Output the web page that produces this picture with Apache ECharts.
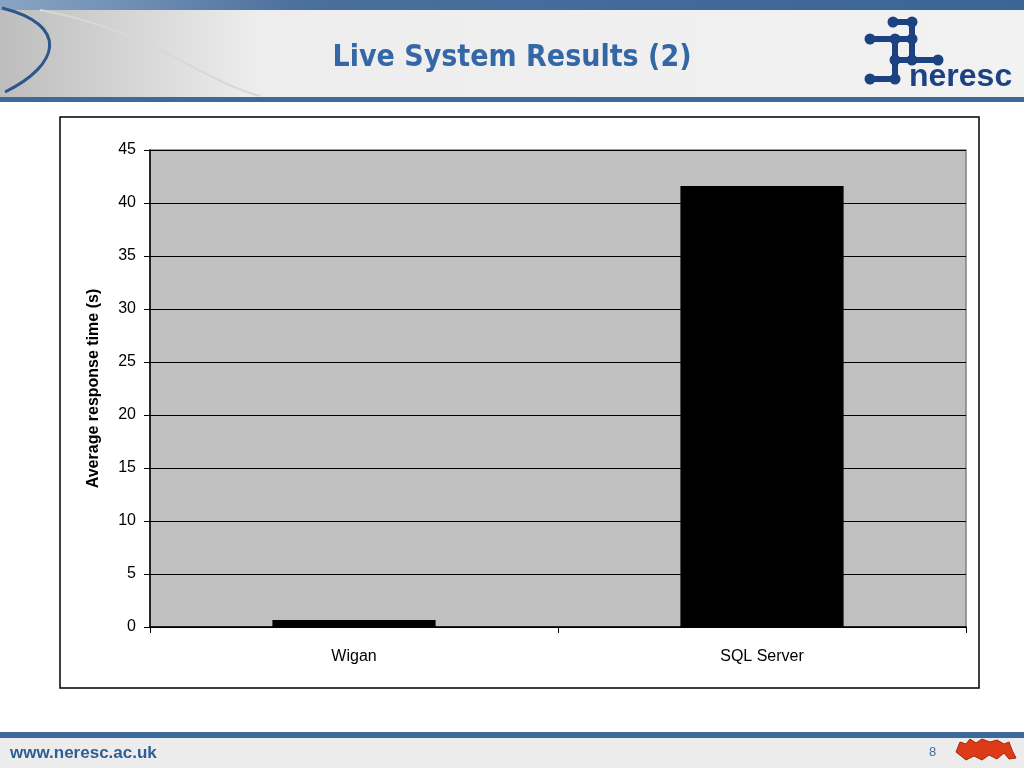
<!DOCTYPE html>
<html>
<head>
<meta charset="utf-8">
<script src="https://cdn.jsdelivr.net/npm/echarts@6/dist/echarts.min.js"></script>
<style>
html,body{margin:0;padding:0;background:#fff;}
#chart{width:1024px;height:768px;}
</style>
</head>
<body>
<div id="chart"></div>
<script>
const categories = ['Wigan', 'SQL Server'];
const responseTimes = [0.65, 41.6];
const yTicks = { min: 0, max: 45, interval: 5 };
const titleText = 'Live System Results (2)';
const yAxisName = 'Average response time (s)';
const footerUrl = 'www.neresc.ac.uk';
const pageNumber = '8';

const chart = echarts.init(document.getElementById('chart'), null, { renderer: 'canvas' });

const navy = '#1d4282';
function dot(x, y, r) { return { type: 'circle', shape: { cx: x, cy: y, r: r || 5.5 }, style: { fill: navy }, z: 5 }; }
function seg(x1, y1, x2, y2) { return { type: 'line', shape: { x1, y1, x2, y2 }, style: { stroke: navy, lineWidth: 6 }, z: 5 }; }

const graphics = [
  // header background
  { type: 'rect', shape: { x: 0, y: 0, width: 1024, height: 98 }, z: 0,
    style: { fill: new echarts.graphic.LinearGradient(0, 0, 1, 0, [
      { offset: 0, color: '#bdbdbd' }, { offset: 0.25, color: '#ededed' }, { offset: 1, color: '#f2f2f2' }]) } },
  // top stripe
  { type: 'rect', shape: { x: 0, y: 0, width: 1024, height: 10 }, z: 1,
    style: { fill: new echarts.graphic.LinearGradient(0, 0, 1, 0, [
      { offset: 0, color: '#8aa5c4' }, { offset: 0.3, color: '#4a6f9c' }, { offset: 1, color: '#3a6596' }]) } },
  // swoosh
  { type: 'bezierCurve', shape: { x1: 2, y1: 8, cpx1: 70, cpy1: 25, cpx2: 60, cpy2: 65, x2: 5, y2: 92 }, z: 2,
    style: { stroke: '#2c578a', lineWidth: 3, fill: null } },
  { type: 'bezierCurve', shape: { x1: 40, y1: 10, cpx1: 150, cpy1: 30, cpx2: 200, cpy2: 80, x2: 260, y2: 96 }, z: 1,
    style: { stroke: '#d8d8d8', lineWidth: 2, fill: null } },
  // header bottom line
  { type: 'rect', shape: { x: 0, y: 97, width: 1024, height: 5 }, z: 2, style: { fill: '#3d6a9b' } },
  // title
  { type: 'text', x: 512, y: 58, z: 3,
    style: { text: titleText, fill: '#3467a6', font: 'bold 30px "DejaVu Sans Condensed", "DejaVu Sans", sans-serif',
      textAlign: 'center', textVerticalAlign: 'middle' } },
  // logo
  seg(893, 22, 912, 22), dot(893, 22), dot(912, 22),
  seg(870, 39, 912, 39), dot(870, 39), dot(895, 39), dot(912, 39),
  seg(895, 39, 895, 79), seg(912, 22, 912, 60),
  seg(895, 60, 938, 60), dot(895, 60), dot(912, 60), dot(938, 60),
  seg(870, 79, 895, 79), dot(870, 79), dot(895, 79),
  { type: 'text', x: 909, y: 93, z: 5,
    style: { text: 'neresc', fill: navy, font: 'bold 32px "Liberation Sans", Arial, sans-serif', textAlign: 'left', textVerticalAlign: 'bottom' } },
  // chart frame
  { type: 'rect', shape: { x: 60, y: 117, width: 919, height: 571 }, z: 0,
    style: { fill: 'none', stroke: '#000000', lineWidth: 1.5 } },
  // footer
  { type: 'rect', shape: { x: 0, y: 732, width: 1024, height: 6 }, z: 1, style: { fill: '#3d6a9b' } },
  { type: 'rect', shape: { x: 0, y: 738, width: 1024, height: 30 }, z: 1, style: { fill: '#ececec' } },
  { type: 'text', x: 10, y: 753, z: 3,
    style: { text: footerUrl, fill: '#2f5d96', font: 'bold 17px "Liberation Sans", Arial, sans-serif', textVerticalAlign: 'middle' } },
  { type: 'text', x: 929, y: 752, z: 3,
    style: { text: pageNumber, fill: '#4a6f9c', font: '13px "Liberation Sans", sans-serif', textVerticalAlign: 'middle' } },
  // lion (approximation)
  { type: 'polygon', z: 3, shape: { points: [[956,752],[960,742],[966,744],[970,739],[976,743],[982,739],[990,742],[997,740],[1004,744],[1009,742],[1012,750],[1016,758],[1009,759],[1004,753],[997,759],[989,755],[982,760],[974,756],[966,760],[961,756]] },
    style: { fill: '#dd3b18', stroke: '#9c2a0e', lineWidth: 1 } }
];

chart.setOption({
  animation: false,
  backgroundColor: '#ffffff',
  graphic: graphics,
  grid: { left: 150, right: 58, top: 150, bottom: 141, show: true, backgroundColor: '#c0c0c0', borderColor: '#808080', borderWidth: 1.5, containLabel: false },
  xAxis: {
    type: 'category', data: categories, boundaryGap: true,
    axisLine: { show: true, lineStyle: { color: '#000', width: 1.5 } },
    axisTick: { show: true, inside: false, length: 6, alignWithLabel: false, lineStyle: { color: '#000', width: 1 } },
    axisLabel: { color: '#000', fontSize: 16, fontFamily: '"Liberation Sans", Arial, sans-serif', margin: 22 },
    splitLine: { show: false }
  },
  yAxis: {
    type: 'value', min: yTicks.min, max: yTicks.max, interval: yTicks.interval,
    name: yAxisName, nameLocation: 'middle', nameGap: 48, nameRotate: 90,
    nameTextStyle: { color: '#000', fontSize: 16, fontWeight: 'bold', fontFamily: '"Liberation Sans", Arial, sans-serif' },
    axisLine: { show: true, lineStyle: { color: '#000', width: 1.5 } },
    axisTick: { show: true, inside: false, length: 6, lineStyle: { color: '#000', width: 1 } },
    axisLabel: { color: '#000', fontSize: 16, fontFamily: '"Liberation Sans", Arial, sans-serif', margin: 14, padding: [3, 0, 0, 0] },
    splitLine: { show: true, lineStyle: { color: '#000', width: 1.2 } }
  },
  series: [{
    type: 'bar', data: responseTimes, barWidth: '40%',
    itemStyle: { color: '#000000' }
  }]
});
</script>
</body>
</html>
